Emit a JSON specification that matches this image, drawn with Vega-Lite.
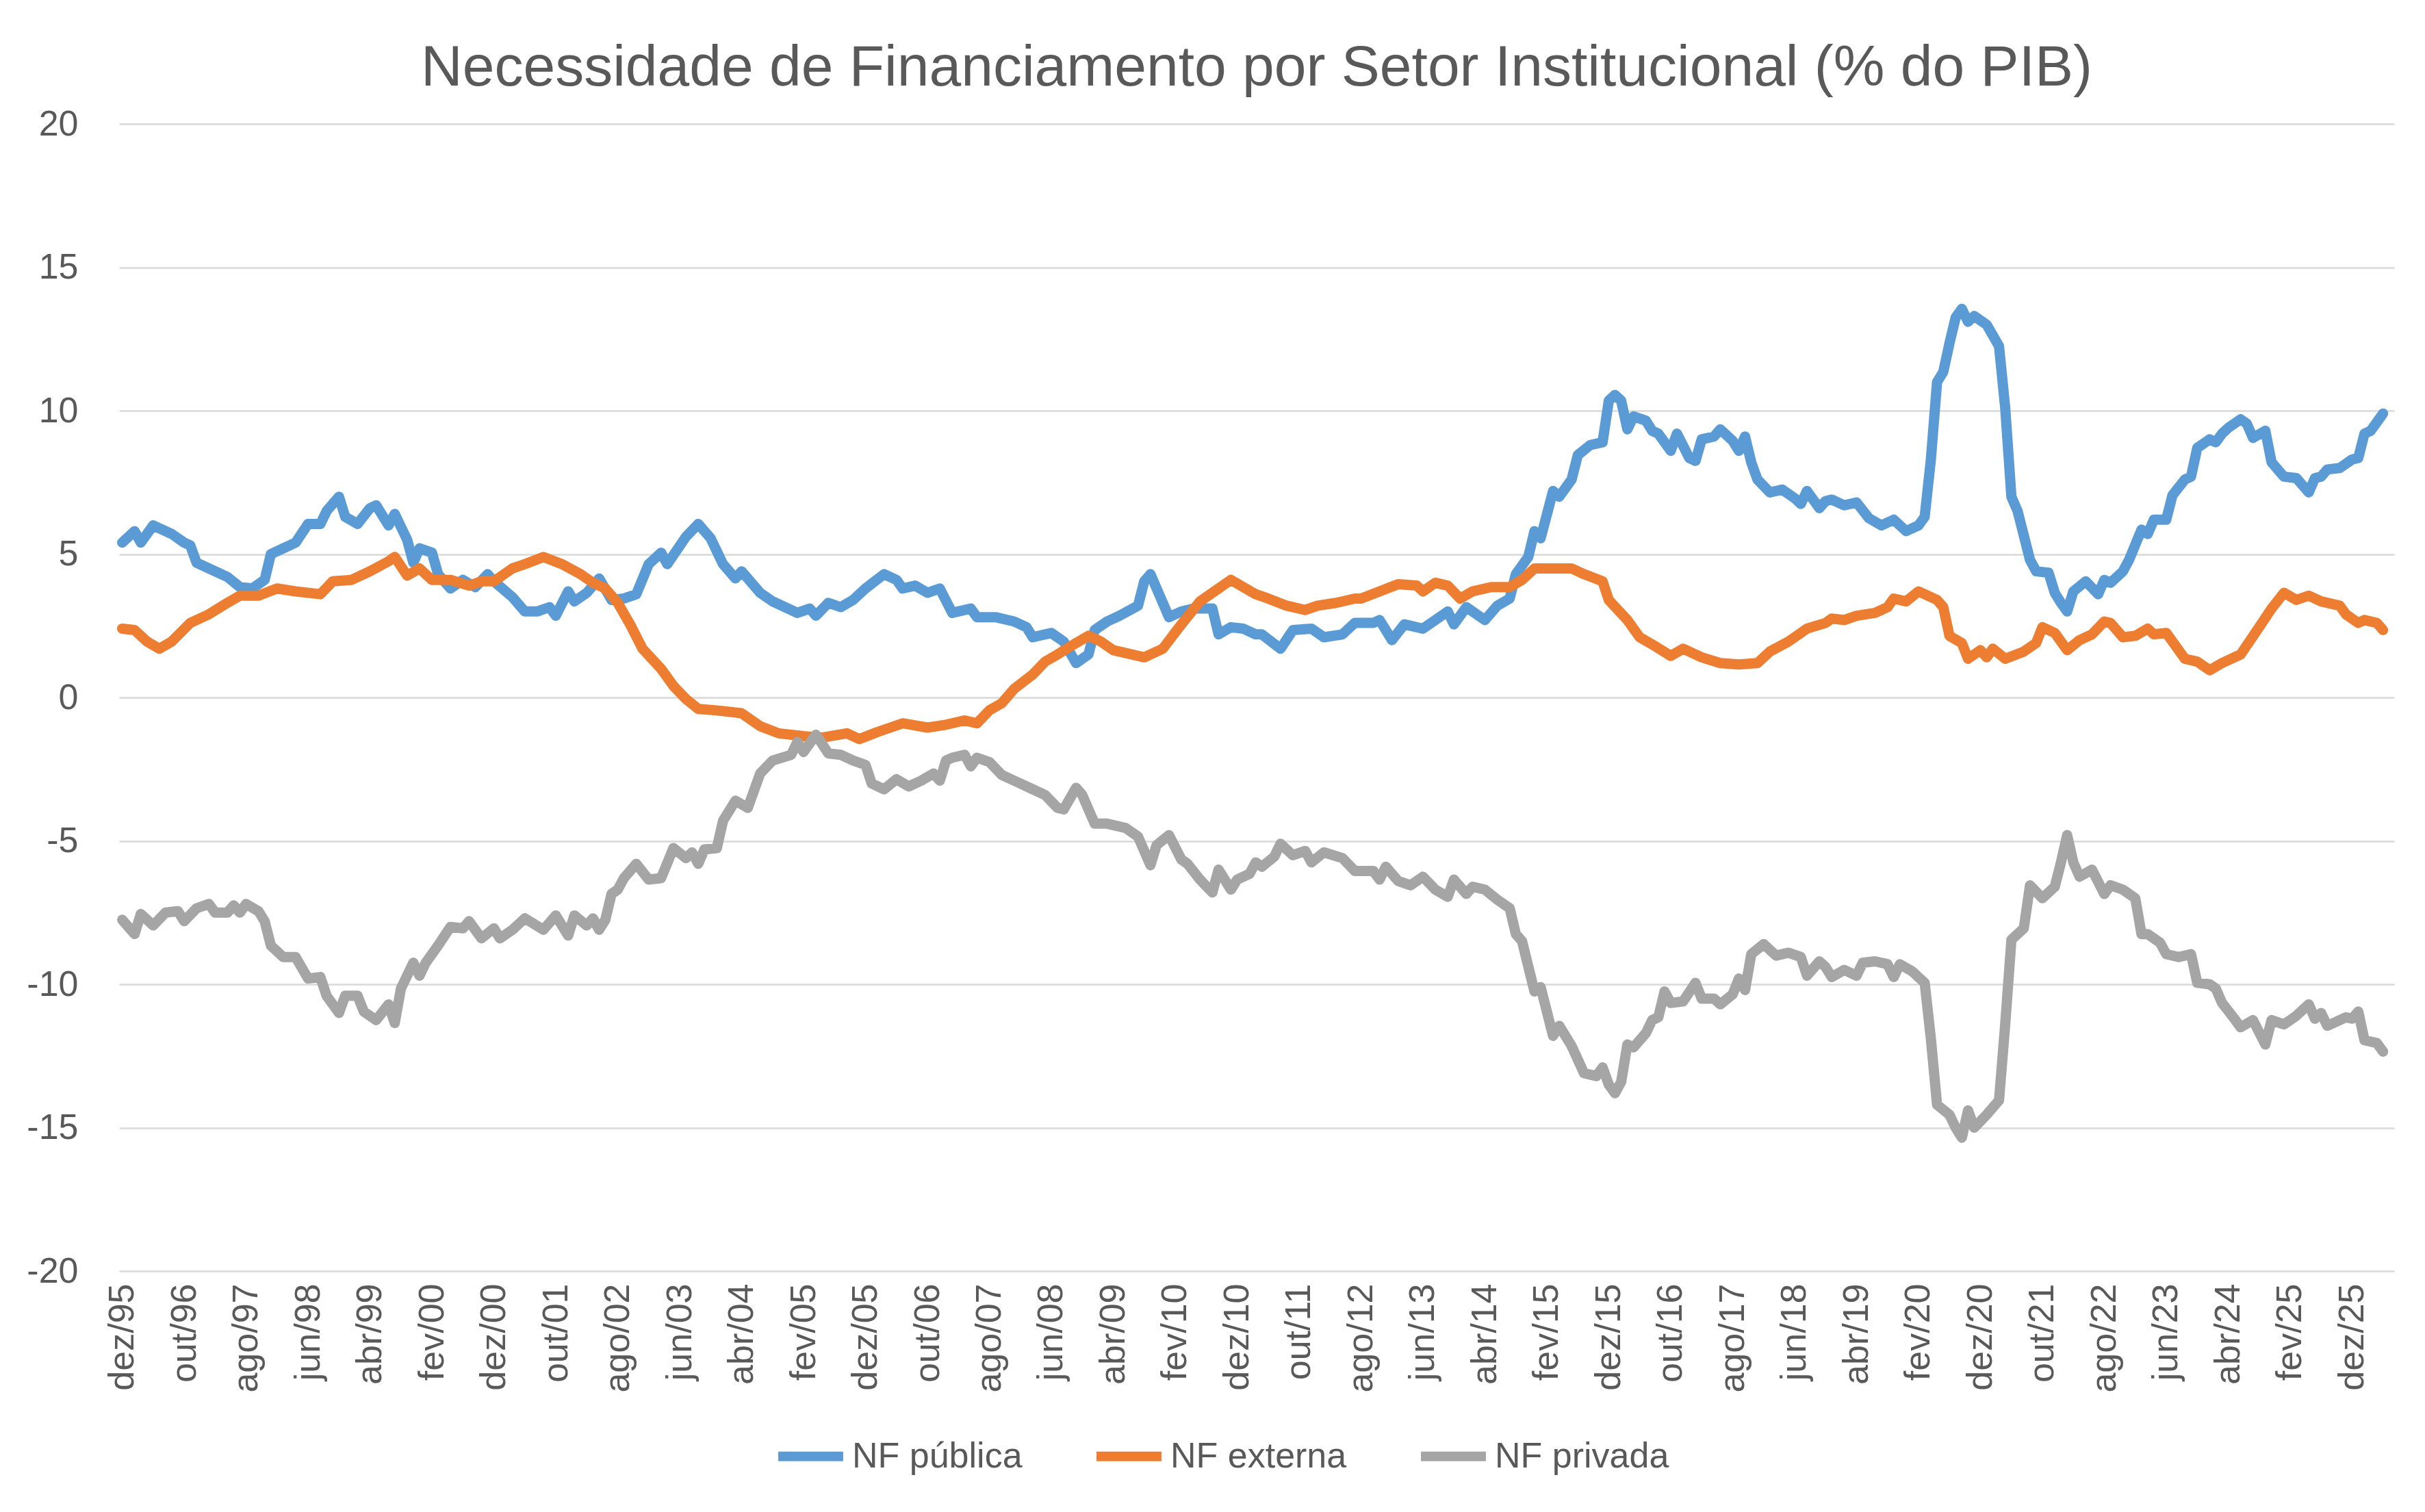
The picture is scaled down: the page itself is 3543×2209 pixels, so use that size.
{
  "$schema": "https://vega.github.io/schema/vega-lite/v6.json",
  "width": 3324,
  "height": 1676,
  "autosize": "none",
  "padding": {"left": 174, "top": 181, "right": 45, "bottom": 352},
  "background": "white",
  "title": {
    "text": "Necessidade de Financiamento por Setor Institucional (% do PIB)",
    "font": "Liberation Sans",
    "fontSize": 84,
    "fontWeight": "normal",
    "color": "#595959",
    "anchor": "middle",
    "offset": 12
  },
  "config": {
    "view": {"stroke": null},
    "axis": {"labelFont": "Liberation Sans", "labelColor": "#595959", "labelFontSize": 52, "title": null}
  },
  "datasets": {
    "pub": [
      {"m":11,"v":5.4},{"m":13,"v":5.8},{"m":14,"v":5.4},{"m":16,"v":6.0},{"m":19,"v":5.7},{"m":21,"v":5.4},{"m":22,"v":5.3},{"m":23,"v":4.7},{"m":26,"v":4.4},{"m":28,"v":4.2},
      {"m":30,"v":3.85},{"m":32,"v":3.8},{"m":34,"v":4.1},{"m":35,"v":5.0},{"m":37,"v":5.2},{"m":39,"v":5.4},{"m":41,"v":6.05},{"m":43,"v":6.05},{"m":44,"v":6.5},{"m":46,"v":7.0},
      {"m":47,"v":6.3},{"m":49,"v":6.05},{"m":51,"v":6.6},{"m":52,"v":6.7},{"m":54,"v":6.0},{"m":55,"v":6.4},{"m":57,"v":5.5},{"m":58,"v":4.7},{"m":59,"v":5.2},{"m":61,"v":5.05},
      {"m":62,"v":4.3},{"m":64,"v":3.8},{"m":66,"v":4.1},{"m":68,"v":3.85},{"m":70,"v":4.3},{"m":71,"v":4.05},{"m":74,"v":3.5},{"m":76,"v":3.0},{"m":78,"v":3.0},{"m":80,"v":3.15},
      {"m":81,"v":2.85},{"m":83,"v":3.7},{"m":84,"v":3.35},{"m":86,"v":3.65},{"m":88,"v":4.15},{"m":90,"v":3.4},{"m":92,"v":3.45},{"m":94,"v":3.6},{"m":96,"v":4.65},{"m":98,"v":5.05},
      {"m":99,"v":4.65},{"m":102,"v":5.6},{"m":104,"v":6.05},{"m":106,"v":5.55},{"m":108,"v":4.65},{"m":110,"v":4.15},{"m":111,"v":4.4},{"m":114,"v":3.65},{"m":116,"v":3.35},{"m":120,"v":2.95},
      {"m":122,"v":3.1},{"m":123,"v":2.85},{"m":125,"v":3.3},{"m":127,"v":3.15},{"m":129,"v":3.4},{"m":131,"v":3.8},{"m":134,"v":4.3},{"m":136,"v":4.1},{"m":137,"v":3.8},{"m":139,"v":3.9},
      {"m":141,"v":3.65},{"m":143,"v":3.8},{"m":145,"v":2.95},{"m":148,"v":3.1},{"m":149,"v":2.8},{"m":152,"v":2.8},{"m":155,"v":2.65},{"m":157,"v":2.45},{"m":158,"v":2.1},{"m":161,"v":2.25},
      {"m":163,"v":1.95},{"m":165,"v":1.2},{"m":167,"v":1.5},{"m":168,"v":2.35},{"m":170,"v":2.65},{"m":172,"v":2.85},{"m":175,"v":3.2},{"m":176,"v":4.05},{"m":177,"v":4.3},{"m":178,"v":3.8},
      {"m":180,"v":2.8},{"m":182,"v":3.0},{"m":184,"v":3.1},{"m":187,"v":3.1},{"m":188,"v":2.2},{"m":190,"v":2.45},{"m":192,"v":2.4},{"m":194,"v":2.2},{"m":195,"v":2.2},{"m":198,"v":1.7},
      {"m":200,"v":2.35},{"m":203,"v":2.4},{"m":205,"v":2.1},{"m":208,"v":2.2},{"m":210,"v":2.6},{"m":213,"v":2.6},{"m":214,"v":2.7},{"m":216,"v":2.0},{"m":218,"v":2.55},{"m":221,"v":2.4},
      {"m":223,"v":2.7},{"m":225,"v":3.0},{"m":226,"v":2.55},{"m":228,"v":3.15},{"m":231,"v":2.7},{"m":233,"v":3.2},{"m":235,"v":3.45},{"m":236,"v":4.3},{"m":238,"v":4.9},{"m":239,"v":5.8},
      {"m":240,"v":5.55},{"m":242,"v":7.2},{"m":243,"v":7.0},{"m":245,"v":7.6},{"m":246,"v":8.45},{"m":248,"v":8.8},{"m":250,"v":8.9},{"m":251,"v":10.35},{"m":252,"v":10.55},{"m":253,"v":10.35},
      {"m":254,"v":9.35},{"m":255,"v":9.8},{"m":257,"v":9.65},{"m":258,"v":9.3},{"m":259,"v":9.2},{"m":261,"v":8.6},{"m":262,"v":9.2},{"m":264,"v":8.35},{"m":265,"v":8.25},{"m":266,"v":9.0},
      {"m":268,"v":9.1},{"m":269,"v":9.35},{"m":271,"v":8.95},{"m":272,"v":8.6},{"m":273,"v":9.1},{"m":274,"v":8.2},{"m":275,"v":7.6},{"m":277,"v":7.15},{"m":279,"v":7.25},{"m":281,"v":6.95},
      {"m":282,"v":6.75},{"m":283,"v":7.2},{"m":285,"v":6.6},{"m":286,"v":6.85},{"m":287,"v":6.9},{"m":289,"v":6.7},{"m":291,"v":6.8},{"m":293,"v":6.25},{"m":295,"v":6.0},{"m":297,"v":6.2},
      {"m":299,"v":5.8},{"m":301,"v":6.0},{"m":302,"v":6.3},{"m":303,"v":8.3},{"m":304,"v":11.0},{"m":305,"v":11.35},{"m":306,"v":12.35},{"m":307,"v":13.25},{"m":308,"v":13.55},{"m":309,"v":13.1},
      {"m":310,"v":13.3},{"m":312,"v":13.0},{"m":314,"v":12.25},{"m":315,"v":10.1},{"m":316,"v":7.0},{"m":317,"v":6.5},{"m":319,"v":4.8},{"m":320,"v":4.4},{"m":322,"v":4.35},{"m":323,"v":3.65},
      {"m":324,"v":3.3},{"m":325,"v":3.0},{"m":326,"v":3.7},{"m":328,"v":4.05},{"m":330,"v":3.6},{"m":331,"v":4.1},{"m":332,"v":4.0},{"m":334,"v":4.4},{"m":335,"v":4.8},{"m":337,"v":5.85},
      {"m":338,"v":5.7},{"m":339,"v":6.2},{"m":341,"v":6.2},{"m":342,"v":7.05},{"m":344,"v":7.6},{"m":345,"v":7.7},{"m":346,"v":8.7},{"m":348,"v":9.0},{"m":349,"v":8.9},{"m":350,"v":9.2},
      {"m":351,"v":9.4},{"m":353,"v":9.7},{"m":354,"v":9.55},{"m":355,"v":9.05},{"m":357,"v":9.3},{"m":358,"v":8.2},{"m":360,"v":7.7},{"m":362,"v":7.65},{"m":363,"v":7.4},{"m":364,"v":7.15},
      {"m":365,"v":7.65},{"m":366,"v":7.7},{"m":367,"v":7.95},{"m":369,"v":8.0},{"m":371,"v":8.3},{"m":372,"v":8.35},{"m":373,"v":9.2},{"m":374,"v":9.3},{"m":375,"v":9.6},{"m":376,"v":9.9}
    ],
    "ext": [
      {"m":11,"v":2.4},{"m":13,"v":2.35},{"m":15,"v":1.95},{"m":17,"v":1.7},{"m":19,"v":1.95},{"m":22,"v":2.6},{"m":25,"v":2.9},{"m":28,"v":3.3},{"m":30,"v":3.55},{"m":33,"v":3.55},
      {"m":36,"v":3.8},{"m":39,"v":3.7},{"m":43,"v":3.6},{"m":45,"v":4.05},{"m":48,"v":4.1},{"m":51,"v":4.4},{"m":54,"v":4.75},{"m":55,"v":4.9},{"m":57,"v":4.25},{"m":59,"v":4.5},
      {"m":61,"v":4.1},{"m":64,"v":4.1},{"m":67,"v":3.9},{"m":69,"v":4.05},{"m":71,"v":4.05},{"m":74,"v":4.5},{"m":76,"v":4.65},{"m":79,"v":4.9},{"m":82,"v":4.65},{"m":85,"v":4.3},
      {"m":87,"v":4.0},{"m":89,"v":3.8},{"m":91,"v":3.3},{"m":93,"v":2.55},{"m":95,"v":1.7},{"m":98,"v":1.0},{"m":100,"v":0.4},{"m":102,"v":-0.05},{"m":104,"v":-0.4},{"m":107,"v":-0.45},
      {"m":111,"v":-0.55},{"m":114,"v":-1.0},{"m":117,"v":-1.25},{"m":121,"v":-1.35},{"m":124,"v":-1.4},{"m":128,"v":-1.25},{"m":130,"v":-1.45},{"m":133,"v":-1.2},{"m":137,"v":-0.9},{"m":141,"v":-1.05},
      {"m":144,"v":-0.95},{"m":147,"v":-0.8},{"m":149,"v":-0.9},{"m":151,"v":-0.45},{"m":153,"v":-0.2},{"m":155,"v":0.3},{"m":158,"v":0.8},{"m":160,"v":1.25},{"m":162,"v":1.5},{"m":165,"v":1.9},
      {"m":167,"v":2.15},{"m":169,"v":1.95},{"m":171,"v":1.65},{"m":174,"v":1.5},{"m":176,"v":1.4},{"m":179,"v":1.7},{"m":182,"v":2.55},{"m":185,"v":3.35},{"m":188,"v":3.8},{"m":190,"v":4.1},
      {"m":192,"v":3.85},{"m":194,"v":3.6},{"m":196,"v":3.45},{"m":199,"v":3.2},{"m":202,"v":3.05},{"m":204,"v":3.2},{"m":207,"v":3.3},{"m":210,"v":3.45},{"m":211,"v":3.45},{"m":214,"v":3.7},
      {"m":217,"v":3.95},{"m":220,"v":3.9},{"m":221,"v":3.7},{"m":223,"v":4.0},{"m":225,"v":3.9},{"m":227,"v":3.45},{"m":229,"v":3.7},{"m":232,"v":3.85},{"m":235,"v":3.85},{"m":237,"v":4.1},
      {"m":239,"v":4.5},{"m":242,"v":4.5},{"m":245,"v":4.5},{"m":247,"v":4.3},{"m":250,"v":4.05},{"m":251,"v":3.4},{"m":254,"v":2.7},{"m":256,"v":2.1},{"m":258,"v":1.85},{"m":261,"v":1.45},
      {"m":263,"v":1.7},{"m":266,"v":1.4},{"m":269,"v":1.2},{"m":272,"v":1.15},{"m":275,"v":1.2},{"m":277,"v":1.6},{"m":280,"v":1.95},{"m":283,"v":2.4},{"m":286,"v":2.6},{"m":287,"v":2.75},
      {"m":289,"v":2.7},{"m":291,"v":2.85},{"m":294,"v":2.95},{"m":296,"v":3.15},{"m":297,"v":3.45},{"m":299,"v":3.35},{"m":301,"v":3.7},{"m":304,"v":3.4},{"m":305,"v":3.15},{"m":306,"v":2.15},
      {"m":308,"v":1.9},{"m":309,"v":1.35},{"m":311,"v":1.65},{"m":312,"v":1.4},{"m":313,"v":1.7},{"m":315,"v":1.35},{"m":318,"v":1.6},{"m":320,"v":1.9},{"m":321,"v":2.45},{"m":323,"v":2.25},
      {"m":325,"v":1.65},{"m":327,"v":2.0},{"m":329,"v":2.2},{"m":331,"v":2.65},{"m":332,"v":2.6},{"m":334,"v":2.1},{"m":336,"v":2.15},{"m":338,"v":2.4},{"m":339,"v":2.2},{"m":341,"v":2.25},
      {"m":344,"v":1.35},{"m":346,"v":1.25},{"m":348,"v":0.95},{"m":350,"v":1.2},{"m":353,"v":1.5},{"m":356,"v":2.45},{"m":358,"v":3.1},{"m":360,"v":3.65},{"m":362,"v":3.4},{"m":364,"v":3.55},
      {"m":366,"v":3.35},{"m":369,"v":3.2},{"m":370,"v":2.9},{"m":372,"v":2.6},{"m":373,"v":2.7},{"m":375,"v":2.6},{"m":376,"v":2.35}
    ],
    "pri": [
      {"m":11,"v":-7.75},{"m":13,"v":-8.25},{"m":14,"v":-7.55},{"m":16,"v":-7.95},{"m":18,"v":-7.5},{"m":20,"v":-7.45},{"m":21,"v":-7.8},{"m":23,"v":-7.35},{"m":25,"v":-7.2},{"m":26,"v":-7.5},
      {"m":28,"v":-7.5},{"m":29,"v":-7.25},{"m":30,"v":-7.5},{"m":31,"v":-7.2},{"m":33,"v":-7.45},{"m":34,"v":-7.8},{"m":35,"v":-8.65},{"m":37,"v":-9.05},{"m":39,"v":-9.05},{"m":41,"v":-9.8},
      {"m":43,"v":-9.75},{"m":44,"v":-10.4},{"m":46,"v":-11.0},{"m":47,"v":-10.4},{"m":49,"v":-10.4},{"m":50,"v":-10.95},{"m":52,"v":-11.25},{"m":54,"v":-10.7},{"m":55,"v":-11.35},{"m":56,"v":-10.15},
      {"m":58,"v":-9.25},{"m":59,"v":-9.7},{"m":60,"v":-9.25},{"m":62,"v":-8.65},{"m":64,"v":-8.0},{"m":66,"v":-8.05},{"m":67,"v":-7.8},{"m":69,"v":-8.4},{"m":71,"v":-8.05},{"m":72,"v":-8.4},
      {"m":74,"v":-8.1},{"m":76,"v":-7.7},{"m":79,"v":-8.1},{"m":81,"v":-7.6},{"m":83,"v":-8.3},{"m":84,"v":-7.6},{"m":86,"v":-7.95},{"m":87,"v":-7.7},{"m":88,"v":-8.1},{"m":89,"v":-7.75},
      {"m":90,"v":-6.85},{"m":91,"v":-6.7},{"m":92,"v":-6.3},{"m":94,"v":-5.8},{"m":96,"v":-6.35},{"m":98,"v":-6.3},{"m":100,"v":-5.25},{"m":102,"v":-5.6},{"m":103,"v":-5.4},{"m":104,"v":-5.8},
      {"m":105,"v":-5.3},{"m":107,"v":-5.25},{"m":108,"v":-4.3},{"m":110,"v":-3.6},{"m":112,"v":-3.85},{"m":114,"v":-2.65},{"m":116,"v":-2.2},{"m":119,"v":-2.0},{"m":120,"v":-1.55},{"m":121,"v":-1.9},
      {"m":123,"v":-1.3},{"m":125,"v":-1.95},{"m":127,"v":-2.0},{"m":129,"v":-2.2},{"m":131,"v":-2.35},{"m":132,"v":-3.0},{"m":134,"v":-3.2},{"m":136,"v":-2.85},{"m":138,"v":-3.1},{"m":140,"v":-2.9},
      {"m":142,"v":-2.65},{"m":143,"v":-2.9},{"m":144,"v":-2.2},{"m":145,"v":-2.1},{"m":147,"v":-2.0},{"m":148,"v":-2.4},{"m":149,"v":-2.1},{"m":151,"v":-2.25},{"m":153,"v":-2.7},{"m":155,"v":-2.9},
      {"m":158,"v":-3.2},{"m":160,"v":-3.4},{"m":162,"v":-3.85},{"m":163,"v":-3.9},{"m":165,"v":-3.15},{"m":166,"v":-3.4},{"m":168,"v":-4.4},{"m":170,"v":-4.4},{"m":173,"v":-4.55},{"m":175,"v":-4.85},
      {"m":177,"v":-5.85},{"m":178,"v":-5.15},{"m":180,"v":-4.8},{"m":182,"v":-5.65},{"m":183,"v":-5.8},{"m":185,"v":-6.35},{"m":187,"v":-6.8},{"m":188,"v":-6.0},{"m":190,"v":-6.7},{"m":191,"v":-6.35},
      {"m":193,"v":-6.15},{"m":194,"v":-5.75},{"m":195,"v":-5.9},{"m":197,"v":-5.55},{"m":198,"v":-5.1},{"m":200,"v":-5.5},{"m":202,"v":-5.35},{"m":203,"v":-5.75},{"m":205,"v":-5.4},{"m":208,"v":-5.6},
      {"m":210,"v":-6.05},{"m":213,"v":-6.05},{"m":214,"v":-6.35},{"m":215,"v":-5.9},{"m":217,"v":-6.4},{"m":219,"v":-6.55},{"m":221,"v":-6.25},{"m":223,"v":-6.7},{"m":225,"v":-6.95},{"m":226,"v":-6.35},
      {"m":228,"v":-6.85},{"m":229,"v":-6.6},{"m":231,"v":-6.7},{"m":233,"v":-7.05},{"m":235,"v":-7.35},{"m":236,"v":-8.25},{"m":237,"v":-8.5},{"m":239,"v":-10.25},{"m":240,"v":-10.1},{"m":242,"v":-11.8},
      {"m":243,"v":-11.45},{"m":245,"v":-12.15},{"m":247,"v":-13.1},{"m":249,"v":-13.2},{"m":250,"v":-12.9},{"m":251,"v":-13.5},{"m":252,"v":-13.8},{"m":253,"v":-13.4},{"m":254,"v":-12.1},{"m":255,"v":-12.2},
      {"m":257,"v":-11.7},{"m":258,"v":-11.25},{"m":259,"v":-11.15},{"m":260,"v":-10.25},{"m":261,"v":-10.65},{"m":263,"v":-10.6},{"m":265,"v":-9.95},{"m":266,"v":-10.5},{"m":268,"v":-10.5},{"m":269,"v":-10.7},
      {"m":271,"v":-10.35},{"m":272,"v":-9.8},{"m":273,"v":-10.2},{"m":274,"v":-8.95},{"m":276,"v":-8.6},{"m":278,"v":-9.0},{"m":280,"v":-8.9},{"m":282,"v":-9.05},{"m":283,"v":-9.7},{"m":285,"v":-9.2},
      {"m":286,"v":-9.4},{"m":287,"v":-9.75},{"m":289,"v":-9.5},{"m":291,"v":-9.7},{"m":292,"v":-9.25},{"m":294,"v":-9.2},{"m":296,"v":-9.3},{"m":297,"v":-9.75},{"m":298,"v":-9.3},{"m":300,"v":-9.55},
      {"m":302,"v":-9.95},{"m":303,"v":-11.9},{"m":304,"v":-14.2},{"m":306,"v":-14.55},{"m":307,"v":-15.0},{"m":308,"v":-15.35},{"m":309,"v":-14.4},{"m":310,"v":-15.0},{"m":312,"v":-14.55},{"m":314,"v":-14.05},
      {"m":315,"v":-11.4},{"m":316,"v":-8.45},{"m":318,"v":-8.05},{"m":319,"v":-6.55},{"m":321,"v":-7.0},{"m":323,"v":-6.6},{"m":324,"v":-5.75},{"m":325,"v":-4.8},{"m":326,"v":-5.75},{"m":327,"v":-6.25},
      {"m":329,"v":-6.0},{"m":331,"v":-6.85},{"m":332,"v":-6.55},{"m":334,"v":-6.7},{"m":336,"v":-7.0},{"m":337,"v":-8.25},{"m":338,"v":-8.25},{"m":340,"v":-8.55},{"m":341,"v":-8.95},{"m":343,"v":-9.05},
      {"m":345,"v":-8.95},{"m":346,"v":-9.95},{"m":348,"v":-10.0},{"m":349,"v":-10.15},{"m":350,"v":-10.65},{"m":352,"v":-11.2},{"m":353,"v":-11.5},{"m":355,"v":-11.25},{"m":357,"v":-12.1},{"m":358,"v":-11.25},
      {"m":360,"v":-11.4},{"m":362,"v":-11.1},{"m":364,"v":-10.7},{"m":365,"v":-11.2},{"m":366,"v":-11.0},{"m":367,"v":-11.45},{"m":370,"v":-11.15},{"m":371,"v":-11.2},{"m":372,"v":-10.95},{"m":373,"v":-11.95},
      {"m":374,"v":-12.0},{"m":375,"v":-12.05},{"m":376,"v":-12.35}
    ]
  },
  "encoding": {
    "x": {
      "field": "m",
      "type": "quantitative",
      "scale": {"domain": [10.5, 377.8], "nice": false, "zero": false},
      "axis": {
        "values": [11, 21, 31, 41, 51, 61, 71, 81, 91, 101, 111, 121, 131, 141, 151, 161, 171, 181, 191, 201, 211, 221, 231, 241, 251, 261, 271, 281, 291, 301, 311, 321, 331, 341, 351, 361, 371],
        "labelExpr": "['jan','fev','mar','abr','mai','jun','jul','ago','set','out','nov','dez'][datum.value % 12] + '/' + format((95 + floor(datum.value / 12)) % 100, '02d')",
        "labelAngle": -90,
        "labelPadding": 18,
        "grid": false,
        "ticks": false,
        "domain": false
      }
    },
    "y": {
      "field": "v",
      "type": "quantitative",
      "scale": {"domain": [-20, 20], "nice": false, "zero": false},
      "axis": {
        "values": [-20, -15, -10, -5, 0, 5, 10, 15, 20],
        "labelExpr": "toString(datum.value)",
        "grid": true,
        "gridColor": "#D9D9D9",
        "gridWidth": 2.5,
        "ticks": false,
        "domain": false,
        "labelPadding": 60
      }
    },
    "color": {
      "datum": "NF pública",
      "type": "nominal",
      "scale": {"domain": ["NF pública", "NF externa", "NF privada"], "range": ["#5B9BD5", "#ED7D31", "#A5A5A5"]},
      "legend": {
        "orient": "none",
        "legendX": 956,
        "legendY": 1892,
        "direction": "horizontal",
        "title": null,
        "symbolType": "stroke",
        "symbolSize": 9000,
        "symbolStrokeWidth": 14,
        "labelFont": "Liberation Sans",
        "labelFontSize": 52,
        "labelColor": "#595959",
        "labelLimit": 600,
        "labelOffset": 6,
        "columnPadding": 80
      }
    }
  },
  "layer": [
    {
      "data": {"name": "pub"},
      "mark": {"type": "line", "strokeWidth": 15, "strokeJoin": "round", "strokeCap": "round"},
      "encoding": {"color": {"datum": "NF pública", "type": "nominal"}}
    },
    {
      "data": {"name": "ext"},
      "mark": {"type": "line", "strokeWidth": 15, "strokeJoin": "round", "strokeCap": "round"},
      "encoding": {"color": {"datum": "NF externa", "type": "nominal"}}
    },
    {
      "data": {"name": "pri"},
      "mark": {"type": "line", "strokeWidth": 15, "strokeJoin": "round", "strokeCap": "round"},
      "encoding": {"color": {"datum": "NF privada", "type": "nominal"}}
    }
  ]
}
